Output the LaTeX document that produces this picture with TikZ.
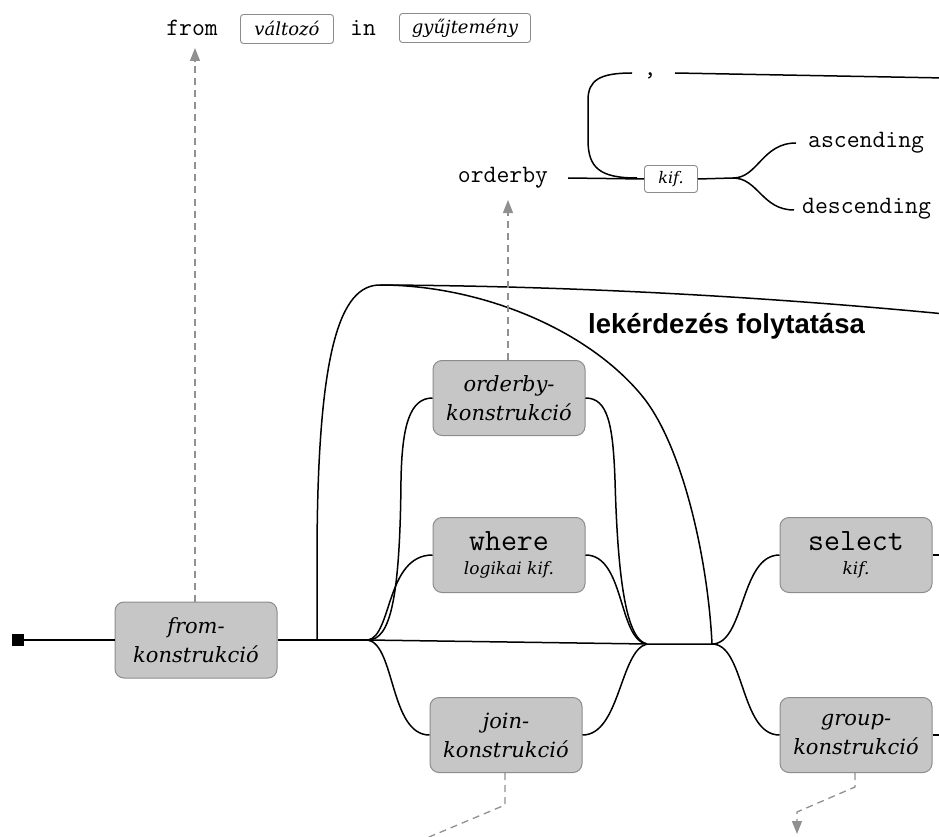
\documentclass[tikz,border=0pt]{standalone}
\usepackage{fontspec}
\setmainfont{DejaVu Serif}
\newfontfamily\headfont{Liberation Sans}
\usetikzlibrary{arrows.meta}
\definecolor{boxfill}{HTML}{C6C6C6}
\definecolor{boxline}{HTML}{8C8C8C}
\definecolor{guide}{HTML}{909090}
\newcommand\kwbig{\ttfamily\upshape\fontsize{31}{31}\selectfont}
\newcommand\subexpr{\fontsize{17}{17}\selectfont}

\begin{document}
\begin{tikzpicture}[x=1pt,y=-1pt,
  rail/.style={line width=1.5pt, black},
  constr/.style={draw=boxline, fill=boxfill, line width=1pt, rounded corners=9pt,
    minimum width=152pt, minimum height=75pt, align=center, inner sep=0pt,
    font=\itshape\fontsize{21}{29}\selectfont},
  term/.style={draw=boxline, fill=white, line width=0.9pt, rounded corners=3pt,
    inner sep=0pt, font=\itshape\fontsize{18}{18}\selectfont},
  kw/.style={font=\ttfamily\fontsize{25}{25}\selectfont, inner sep=0pt},
  guideline/.style={draw=guide, line width=1.3pt, dash pattern=on 7pt off 5pt},
  guidetip/.style={-{Triangle[length=13pt,width=10pt]}, guide},
]
\useasboundingbox (0,0) rectangle (939,837);
\clip (0,0) rectangle (939,837);

% --- from-construction syntax
\node[kw] (fromkw) at (192,28) {from};
\node[term, minimum width=93pt, minimum height=29pt] (var) at (287,29) {változó};
\node[kw] (inkw) at (363,28) {in};
\node[term, minimum width=131pt, minimum height=29pt] (coll) at (465,28) {gyűjtemény};

% --- orderby syntax
\node[kw] (obkw) at (503,178) {orderby};
\node[term, minimum width=53pt, minimum height=27pt, font=\itshape\fontsize{16}{16}\selectfont] (kif) at (671,179) {kif.};
\node[kw, anchor=west] (asc) at (808,143) {ascending};
\node[kw, anchor=west] (desc) at (802,209) {descending};
\node[kw, anchor=base] (comma) at (650,76) {,};
\coordinate (obout) at (568,178);
\coordinate (loopin) at (637,178);
\coordinate (kfork) at (733,178);
\coordinate (ascin) at (796,143);
\coordinate (descin) at (794,210);
\coordinate (loopend) at (632,73);
\coordinate (loopcont) at (675,73);
\coordinate (loopexit) at (945,78);

\draw[rail] (obout) -- (kif.west);
\draw[rail] (kif.east) -- (kfork);
\draw[rail] (kfork) .. controls (758,178) and (762,143) .. (ascin);
\draw[rail] (kfork) .. controls (758,178) and (762,210) .. (descin);
\draw[rail] (loopin) .. controls (600,178) and (588,168) .. (588,140) -- (588,100)
  .. controls (588,80) and (600,73) .. (loopend);
\draw[rail] (loopcont) -- (loopexit);

% --- query body
\node[fill=black, minimum size=12pt, inner sep=0pt] (start) at (18,640) {};
\node[constr, minimum width=162pt, minimum height=76pt] (fromk) at (196,640) {from-\\konstrukció};
\node[constr] (ordk) at (509,398) {orderby-\\konstrukció};
\node[constr] (wherek) at (509,555)
  {{\kwbig where}\\[-5pt]{\subexpr logikai kif.}};
\node[constr] (joink) at (506,735) {join-\\konstrukció};
\node[constr] (selectk) at (856,555)
  {{\kwbig select}\\[-5pt]{\subexpr kif.}};
\node[constr] (groupk) at (856,735) {group-\\konstrukció};
\node[font=\headfont\bfseries\fontsize{27.5}{27.5}\selectfont, anchor=base west, inner sep=0pt]
  (cont) at (588,333) {lekérdezés folytatása};

\coordinate (up) at (317,640);
\coordinate (fa) at (368,640);
\coordinate (jb) at (647,644);
\coordinate (fb) at (712,644);
\coordinate (peak) at (380,285);
\coordinate (bend) at (643,397);
\coordinate (contexit) at (945,314);
\coordinate (selexit) at (945,555);
\coordinate (grpexit) at (945,735);

\draw[rail] (start) -- (fromk.west);
\draw[rail] (fromk.east) -- (fa);
\draw[rail] (fa) -- (jb) -- (fb);
\draw[rail] (up) -- (317,560) .. controls (317,350) and (340,285) .. (peak);
\draw[rail] (peak) .. controls (600,286) and (800,300) .. (contexit);
\draw[rail] (peak) .. controls (480,285) and (588,329) .. (bend)
  .. controls (683,447) and (708,560) .. (fb);

\draw[rail] (fa) .. controls (390,640) and (400,600) .. (401,480)
  .. controls (402,425) and (410,398) .. (ordk.west);
\draw[rail] (fa) .. controls (392,636) and (386,555) .. (wherek.west);
\draw[rail] (fa) .. controls (395,645) and (390,735) .. (joink.west);
\draw[rail] (ordk.east) .. controls (608,398) and (613,425) .. (615,480)
  .. controls (618,590) and (628,640) .. (jb);
\draw[rail] (wherek.east) .. controls (625,555) and (618,640) .. (jb);
\draw[rail] (joink.east) .. controls (620,735) and (620,650) .. (jb);
\draw[rail] (fb) .. controls (745,644) and (740,555) .. (selectk.west);
\draw[rail] (fb) .. controls (745,644) and (740,735) .. (groupk.west);
\draw[rail] (selectk.east) -- (selexit);
\draw[rail] (groupk.east) -- (grpexit);

% --- dashed references to the detailed syntax
\coordinate (fromtip) at (195,48);
\coordinate (obtip) at (508,200);
\draw[guideline, guidetip] (fromk.north -| fromtip) -- (fromtip);
\draw[guideline, guidetip] (ordk.north -| obtip) -- (obtip);
\coordinate (joinbend) at (505,805);
\coordinate (joinexit) at (410,845);
\draw[guideline] (joink.south -| joinbend) -- (joinbend) -- (joinexit);
\coordinate (grpbend) at (855,787);
\coordinate (grpturn) at (797,812);
\coordinate (grptip) at (797,834);
\draw[guideline, guidetip] (groupk.south -| grpbend) -- (grpbend) -- (grpturn) -- (grptip);
\end{tikzpicture}
\end{document}
